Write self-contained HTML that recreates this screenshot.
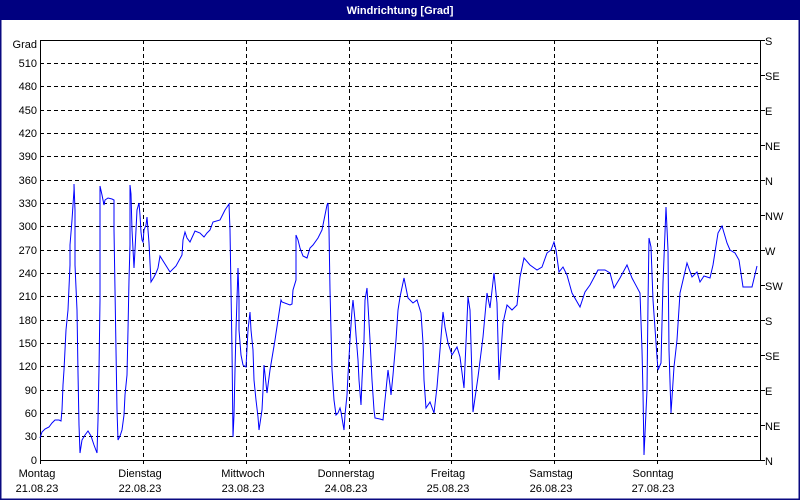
<!DOCTYPE html>
<html><head><meta charset="utf-8"><style>
html,body{margin:0;padding:0;background:#fff}
svg{display:block;font-family:"Liberation Sans",sans-serif;font-size:11px}
</style></head><body>
<svg width="800" height="500" xmlns="http://www.w3.org/2000/svg">
<rect x="0" y="0" width="800" height="500" fill="#fff"/>
<rect x="0.5" y="0.5" width="799" height="499" fill="none" stroke="#0a0a80" stroke-width="2"/>
<rect x="0" y="0" width="800" height="20" fill="#000080"/>
<text x="400" y="14" fill="#fff" font-weight="bold" text-anchor="middle" font-size="11">Windrichtung [Grad]</text>
<g stroke="#000" stroke-dasharray="4,3" stroke-width="1">
<line x1="40" y1="63.5" x2="760" y2="63.5"/><line x1="40" y1="86.5" x2="760" y2="86.5"/><line x1="40" y1="110.5" x2="760" y2="110.5"/><line x1="40" y1="133.5" x2="760" y2="133.5"/><line x1="40" y1="156.5" x2="760" y2="156.5"/><line x1="40" y1="180.5" x2="760" y2="180.5"/><line x1="40" y1="203.5" x2="760" y2="203.5"/><line x1="40" y1="226.5" x2="760" y2="226.5"/><line x1="40" y1="250.5" x2="760" y2="250.5"/><line x1="40" y1="273.5" x2="760" y2="273.5"/><line x1="40" y1="296.5" x2="760" y2="296.5"/><line x1="40" y1="320.5" x2="760" y2="320.5"/><line x1="40" y1="343.5" x2="760" y2="343.5"/><line x1="40" y1="366.5" x2="760" y2="366.5"/><line x1="40" y1="390.5" x2="760" y2="390.5"/><line x1="40" y1="413.5" x2="760" y2="413.5"/><line x1="40" y1="436.5" x2="760" y2="436.5"/>
<line x1="143.5" y1="40" x2="143.5" y2="464"/><line x1="246.5" y1="40" x2="246.5" y2="464"/><line x1="349.5" y1="40" x2="349.5" y2="464"/><line x1="451.5" y1="40" x2="451.5" y2="464"/><line x1="554.5" y1="40" x2="554.5" y2="464"/><line x1="657.5" y1="40" x2="657.5" y2="464"/>
</g>
<g stroke="#000" stroke-width="1" fill="none">
<polyline points="40.5,40 40.5,460.5 760.5,460.5 760.5,40"/>
<line x1="40" y1="40.5" x2="760" y2="40.5"/>
<line x1="40.5" y1="460" x2="40.5" y2="464"/>
<line x1="760" y1="40.5" x2="765" y2="40.5"/><line x1="760" y1="75.5" x2="765" y2="75.5"/><line x1="760" y1="110.5" x2="765" y2="110.5"/><line x1="760" y1="145.5" x2="765" y2="145.5"/><line x1="760" y1="180.5" x2="765" y2="180.5"/><line x1="760" y1="215.5" x2="765" y2="215.5"/><line x1="760" y1="250.5" x2="765" y2="250.5"/><line x1="760" y1="285.5" x2="765" y2="285.5"/><line x1="760" y1="320.5" x2="765" y2="320.5"/><line x1="760" y1="355.5" x2="765" y2="355.5"/><line x1="760" y1="390.5" x2="765" y2="390.5"/><line x1="760" y1="425.5" x2="765" y2="425.5"/><line x1="760" y1="460.5" x2="765" y2="460.5"/>
</g>
<g text-anchor="end" fill="#000">
<text x="37" y="48">Grad</text><text x="37" y="67">510</text><text x="37" y="90">480</text><text x="37" y="114">450</text><text x="37" y="137">420</text><text x="37" y="160">390</text><text x="37" y="184">360</text><text x="37" y="207">330</text><text x="37" y="230">300</text><text x="37" y="254">270</text><text x="37" y="277">240</text><text x="37" y="300">210</text><text x="37" y="324">180</text><text x="37" y="347">150</text><text x="37" y="370">120</text><text x="37" y="394">90</text><text x="37" y="417">60</text><text x="37" y="440">30</text><text x="37" y="464">0</text>
</g>
<g fill="#000">
<text x="765" y="45">S</text><text x="765" y="80">SE</text><text x="765" y="115">E</text><text x="765" y="150">NE</text><text x="765" y="185">N</text><text x="765" y="220">NW</text><text x="765" y="255">W</text><text x="765" y="290">SW</text><text x="765" y="325">S</text><text x="765" y="360">SE</text><text x="765" y="395">E</text><text x="765" y="430">NE</text><text x="765" y="465">N</text>
</g>
<g text-anchor="middle" fill="#000">
<text x="37" y="477">Montag</text><text x="37" y="492">21.08.23</text>
<text x="140" y="477">Dienstag</text><text x="140" y="492">22.08.23</text>
<text x="243" y="477">Mittwoch</text><text x="243" y="492">23.08.23</text>
<text x="346" y="477">Donnerstag</text><text x="346" y="492">24.08.23</text>
<text x="448" y="477">Freitag</text><text x="448" y="492">25.08.23</text>
<text x="551" y="477">Samstag</text><text x="551" y="492">26.08.23</text>
<text x="653" y="477">Sonntag</text><text x="653" y="492">27.08.23</text>
</g>
<polyline fill="none" stroke="#0000ff" stroke-width="1" points="40,438 42,432 45,429 49,427 52,423 55,420 59,420 61,421 62,410 63,385 64,370 66,330 68,310 70,265 70,245 72,220 73,205 74,190 74,184 75,210 75,265 77,310 78,373 79,425 80,453 82,440 85,435 88,431 91,436 94,445 97,453 98,420 99,370 100,300 100,225 100,186 102,195 104,205 105,200 108,198 112,199 114,200 114,230 115,290 116,350 117,410 118,440 120,436 122,430 124,415 125,395 127,375 128,330 129,280 130,245 130,185 131,194 132,230 134,268 135,250 137,210 139,203 140,215 141,232 142,240 143,242 144,230 146,225 147,217 148,230 149,243 151,282 154,277 156,273 158,268 160,256 165,264 170,272 176,266 182,255 183,240 185,232 187,238 190,242 195,231 200,233 204,237 207,233 210,230 213,222 220,220 225,210 229,204 230,230 231,290 232,350 233,437 234,415 235,370 236,330 238,268 239,300 239,330 241,355 243,365 246,367 248,330 250,312 251,330 253,350 254,380 256,400 258,417 259,430 262,410 263,390 264,365 267,393 270,370 275,340 278,320 281,300 282,302 290,305 292,304 293,290 296,280 296,235 298,240 300,248 303,256 307,258 310,248 313,245 318,238 322,230 325,215 327,205 328,203 329,230 330,290 331,330 332,370 334,400 336,415 338,413 340,408 341,412 344,430 345,415 347,395 348,375 350,340 352,310 353,300 355,320 356,335 358,360 359,380 361,405 362,380 364,340 365,300 367,288 368,305 370,340 372,380 374,410 375,418 380,419 383,420 385,400 386,390 388,370 390,385 391,395 393,375 396,340 398,310 400,297 404,278 408,298 413,303 417,300 421,313 423,343 424,380 426,408 430,402 434,413 437,387 440,350 443,312 445,327 448,343 452,355 457,347 460,357 464,388 468,297 470,310 473,412 478,377 483,337 487,293 490,308 494,273 497,303 499,380 503,323 507,305 512,310 517,305 520,277 524,258 530,265 537,270 542,267 547,253 551,250 554,242 556,250 559,272 563,267 567,275 572,293 580,307 585,292 590,285 598,270 605,270 610,273 614,288 620,278 627,265 632,278 640,293 642,350 643,393 644,455 647,390 648,303 649,238 651,247 653,300 657,357 658,370 661,363 663,283 666,207 668,250 669,350 671,413 674,367 677,340 680,293 687,263 692,277 697,272 700,282 704,276 710,278 713,265 718,233 722,226 727,243 730,250 735,253 739,260 743,287 752,287 757,266"/>
</svg>
</body></html>
